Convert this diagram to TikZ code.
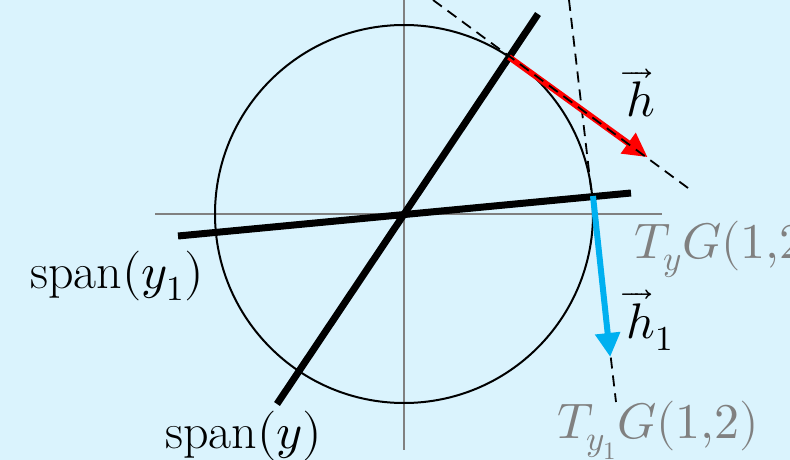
\documentclass[tikz,border=0pt]{standalone}
\usepackage{unicode-math}
\setmathfont{Latin Modern Math}
\usetikzlibrary{arrows.meta}
\definecolor{bg}{RGB}{218,243,253}
\definecolor{axisgray}{RGB}{128,128,128}
\definecolor{hred}{RGB}{255,0,0}
\definecolor{hblue}{RGB}{0,176,240}
\begin{document}
\begin{tikzpicture}[x=1pt,y=-1pt,
  lbl/.style={inner sep=0pt, anchor=base west, font=\fontsize{50}{56}\selectfont},
  graylbl/.style={lbl, text=axisgray},
  axis/.style={axisgray, line width=2.2pt},
  spanline/.style={black, line width=7pt},
  tangent/.style={black, line width=1.8pt, dash pattern=on 11pt off 7pt},
  vecarrow/.style={line width=6pt, -{Triangle[length=24pt,width=24pt]}, shorten >=-2pt}]
\fill[bg] (0,0) rectangle (790,460);
\useasboundingbox (0,0) rectangle (790,460);
% coordinates
\coordinate (O) at (404,214);
\coordinate (ax1) at (155,214);
\coordinate (ax2) at (662,214);
\coordinate (ay1) at (404,0);
\coordinate (ay2) at (404,450);
\coordinate (s1a) at (277,404);
\coordinate (s1b) at (538,14);
\coordinate (s2a) at (178,236);
\coordinate (s2b) at (631,193);
\coordinate (P) at (509,57);
\coordinate (Ptip) at (646,156);
\coordinate (t1a) at (433,0);
\coordinate (t1b) at (688,188);
\coordinate (Q) at (593,196);
\coordinate (Qtip) at (610,355);
\coordinate (t2a) at (569,0);
\coordinate (t2b) at (616,402);
% axes
\draw[axis] (ax1) -- (ax2);
\draw[axis] (ay1) -- (ay2);
% circle
\draw[line width=2pt] (O) circle[radius=189pt];
% tangent line at y1 (under the blue vector)
\draw[tangent] (t2a) -- (t2b);
% spans
\draw[spanline] (s1a) -- (s1b);
\draw[spanline] (s2a) -- (s2b);
% vectors
\draw[vecarrow, hred, fill=hred] (P) -- (Ptip);
\draw[vecarrow, hblue, fill=hblue] (Q) -- (Qtip);
% tangent line at y (over the red vector)
\draw[tangent] (t1a) -- (t1b);
% labels
\node[lbl] (lh) at (626,117) {$\overrightarrow{h}$};
\node[lbl] (lh1) at (626,338) {$\overrightarrow{h}_1$};
\node[lbl] (lsy1) at (30,288) {$\mathrm{span}(y_1)$};
\node[lbl] (lsy) at (165,448) {$\mathrm{span}(y)$};
\node[graylbl] (lty) at (634,258) {$T_yG(1{,}2)$};
\node[graylbl] (lty1) at (557,438) {$T_{y_1}G(1{,}2)$};
\end{tikzpicture}
\end{document}
